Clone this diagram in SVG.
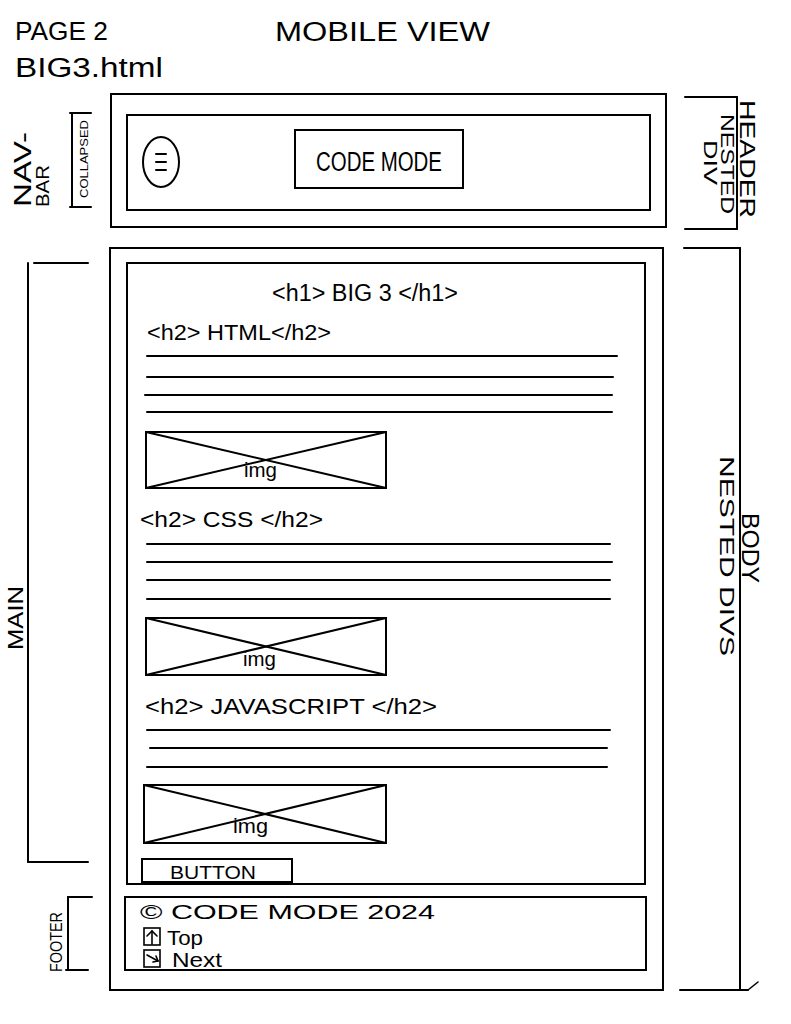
<svg xmlns="http://www.w3.org/2000/svg" width="791" height="1024" viewBox="0 0 791 1024">
<style>
.ln{stroke:#000;stroke-width:2;fill:none;stroke-linecap:round}
.thin{stroke:#000;stroke-width:1.6;fill:none;stroke-linecap:round}
.t{font-family:"Liberation Sans",Arial,sans-serif;fill:#000}
</style>
<rect width="791" height="1024" fill="#fff"/>

<g id="title">
<text class="t" x="15" y="40" font-size="26" textLength="93" lengthAdjust="spacingAndGlyphs">PAGE 2</text>
<text class="t" x="15" y="77" font-size="27" textLength="148" lengthAdjust="spacingAndGlyphs">BIG3.html</text>
<text class="t" x="275" y="41" font-size="27" textLength="215" lengthAdjust="spacingAndGlyphs">MOBILE VIEW</text>
</g>

<g id="header">
<rect class="ln" x="111" y="94" width="555" height="133"/>
<rect class="ln" x="127" y="115" width="523" height="95"/>
</g>

<g id="hamburger">
<ellipse class="ln" cx="161" cy="162" rx="18" ry="25"/>
<line class="ln" x1="156" y1="154" x2="166" y2="154"/>
<line class="ln" x1="156" y1="162" x2="166" y2="162"/>
<line class="ln" x1="156" y1="170" x2="166" y2="170"/>
</g>

<g id="logo">
<rect class="ln" x="295" y="130" width="168" height="58"/>
<text class="t" x="316" y="171" font-size="27" textLength="126" lengthAdjust="spacingAndGlyphs">CODE MODE</text>
</g>

<g id="body">
<rect class="ln" x="110" y="248" width="553" height="742"/>
</g>

<g id="main">
<rect class="ln" x="127" y="263" width="518" height="621"/>
<text class="t" x="272" y="301" font-size="23" textLength="186" lengthAdjust="spacingAndGlyphs">&lt;h1&gt; BIG 3 &lt;/h1&gt;</text>
</g>

<g id="section-html">
<text class="t" x="147" y="340" font-size="22" textLength="184" lengthAdjust="spacingAndGlyphs">&lt;h2&gt; HTML&lt;/h2&gt;</text>
<line class="ln" x1="147" y1="356" x2="617" y2="356"/>
<line class="ln" x1="147" y1="377" x2="613" y2="377"/>
<line class="ln" x1="145" y1="395" x2="612" y2="395"/>
<line class="ln" x1="147" y1="412" x2="612" y2="412"/>
<rect class="ln" x="146" y="432" width="240" height="56"/>
<line class="ln" x1="146" y1="432" x2="386" y2="488"/>
<line class="ln" x1="146" y1="488" x2="386" y2="432"/>
<text class="t" x="244" y="477" font-size="20" textLength="33" lengthAdjust="spacingAndGlyphs">img</text>
</g>

<g id="section-css">
<text class="t" x="140" y="527" font-size="22" textLength="183" lengthAdjust="spacingAndGlyphs">&lt;h2&gt; CSS &lt;/h2&gt;</text>
<line class="ln" x1="147" y1="544" x2="610" y2="544"/>
<line class="ln" x1="147" y1="562" x2="612" y2="562"/>
<line class="ln" x1="147" y1="580" x2="610" y2="580"/>
<line class="ln" x1="147" y1="599" x2="610" y2="599"/>
<rect class="ln" x="146" y="618" width="240" height="57"/>
<line class="ln" x1="146" y1="618" x2="386" y2="675"/>
<line class="ln" x1="146" y1="675" x2="386" y2="618"/>
<text class="t" x="243" y="666" font-size="20" textLength="33" lengthAdjust="spacingAndGlyphs">img</text>
</g>

<g id="section-js">
<text class="t" x="145" y="714" font-size="22" textLength="292" lengthAdjust="spacingAndGlyphs">&lt;h2&gt; JAVASCRIPT &lt;/h2&gt;</text>
<line class="ln" x1="147" y1="730" x2="610" y2="730"/>
<line class="ln" x1="150" y1="748" x2="607" y2="748"/>
<line class="ln" x1="147" y1="767" x2="607" y2="767"/>
<rect class="ln" x="144" y="785" width="242" height="58"/>
<line class="ln" x1="144" y1="785" x2="386" y2="843"/>
<line class="ln" x1="144" y1="843" x2="386" y2="785"/>
<text class="t" x="233" y="833" font-size="20" textLength="35" lengthAdjust="spacingAndGlyphs">img</text>
</g>

<g id="button">
<rect class="ln" x="142" y="859" width="150" height="23"/>
<text class="t" x="170" y="879" font-size="19" textLength="86" lengthAdjust="spacingAndGlyphs">BUTTON</text>
</g>

<g id="footer">
<rect class="ln" x="125" y="897" width="521" height="73"/>
<text class="t" x="140" y="919" font-size="20" textLength="295" lengthAdjust="spacingAndGlyphs">© CODE MODE 2024</text>
<rect class="thin" x="144" y="928" width="16" height="17"/>
<line class="thin" x1="152" y1="931" x2="152" y2="944"/>
<polyline class="thin" points="147,936 152,931 157,936"/>
<text class="t" x="167" y="945" font-size="20" textLength="36" lengthAdjust="spacingAndGlyphs">Top</text>
<rect class="thin" x="144" y="950" width="16" height="17"/>
<line class="thin" x1="147" y1="955" x2="158" y2="961"/>
<polyline class="thin" points="153,962 158,961 156,956"/>
<text class="t" x="172" y="967" font-size="20" textLength="50" lengthAdjust="spacingAndGlyphs">Next</text>
</g>

<g id="connectors">
<line class="ln" x1="72" y1="113" x2="72" y2="207"/>
<line class="ln" x1="70" y1="113" x2="91" y2="113"/>
<line class="ln" x1="70" y1="207" x2="91" y2="207"/>
<line class="ln" x1="737" y1="97" x2="737" y2="229"/>
<line class="ln" x1="685" y1="97" x2="737" y2="97"/>
<line class="ln" x1="685" y1="229" x2="737" y2="229"/>
<line class="ln" x1="740" y1="248" x2="740" y2="990"/>
<line class="ln" x1="684" y1="248" x2="740" y2="248"/>
<line class="ln" x1="680" y1="990" x2="748" y2="990"/>
<line class="thin" x1="748" y1="990" x2="758" y2="982"/>
<line class="ln" x1="28" y1="263" x2="28" y2="862"/>
<line class="ln" x1="34" y1="263" x2="88" y2="263"/>
<line class="ln" x1="28" y1="862" x2="88" y2="862"/>
<line class="ln" x1="68" y1="897" x2="68" y2="970"/>
<line class="ln" x1="68" y1="897" x2="92" y2="897"/>
<line class="ln" x1="66" y1="970" x2="88" y2="970"/>
</g>

<g id="labels">
<text class="t" transform="translate(31,207) rotate(-90)" font-size="24" textLength="75" lengthAdjust="spacingAndGlyphs">NAV-</text>
<text class="t" transform="translate(49,207) rotate(-90)" font-size="18" textLength="42" lengthAdjust="spacingAndGlyphs">BAR</text>
<text class="t" transform="translate(88,198) rotate(-90)" font-size="11" textLength="78" lengthAdjust="spacingAndGlyphs">COLLAPSED</text>
<text class="t" transform="translate(740,100) rotate(90)" font-size="22" textLength="118" lengthAdjust="spacingAndGlyphs">HEADER</text>
<text class="t" transform="translate(721,114) rotate(90)" font-size="19" textLength="100" lengthAdjust="spacingAndGlyphs">NESTED</text>
<text class="t" transform="translate(704,140) rotate(90)" font-size="19" textLength="45" lengthAdjust="spacingAndGlyphs">DIV</text>
<text class="t" transform="translate(742,513) rotate(90)" font-size="24" textLength="70" lengthAdjust="spacingAndGlyphs">BODY</text>
<text class="t" transform="translate(720,456) rotate(90)" font-size="20" textLength="200" lengthAdjust="spacingAndGlyphs">NESTED DIVS</text>
<text class="t" transform="translate(23,650) rotate(-90)" font-size="22" textLength="64" lengthAdjust="spacingAndGlyphs">MAIN</text>
<text class="t" transform="translate(62,972) rotate(-90)" font-size="16" textLength="60" lengthAdjust="spacingAndGlyphs">FOOTER</text>
</g>
</svg>
